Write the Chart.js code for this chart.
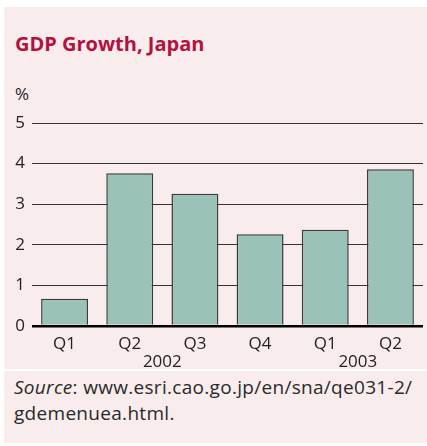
<!DOCTYPE html>
<html>
<head>
<meta charset="utf-8">
<script src="https://cdn.jsdelivr.net/npm/chart.js@4"></script>
<style>
  body { margin: 0; background: #fff; width: 427px; height: 446px; position: relative; overflow: hidden; font-family: "Open Sans", sans-serif; }
  #panel { position: absolute; left: 4px; top: 7px; width: 423px; height: 362px; background: #f9eced; }
  #title { position: absolute; left: 11px; top: 22.5px; margin: 0; font-size: 20px; font-weight: bold; color: #b5113f; }
  #unit { position: absolute; left: 11px; top: 75px; font-size: 17px; color: #222; }
  #chartBox { position: absolute; left: 0; top: 93.3px; width: 423px; height: 269px; }
  #source { position: absolute; left: 4px; top: 371px; width: 423px; height: 72px; background: #f9eced; }
  #source p { margin: 0; position: absolute; left: 10px; top: 3px; font-size: 19px; line-height: 26px; color: #2a2a2a; letter-spacing: 0.3px; white-space: nowrap; }
</style>
</head>
<body>
<div id="panel">
  <h1 id="title">GDP Growth, Japan</h1>
  <div id="unit">%</div>
  <div id="chartBox"><canvas id="gdpChart"></canvas></div>
</div>
<div id="source">
  <p><i>Source</i>: www.esri.cao.go.jp/en/sna/qe031-2/<br>gdemenuea.html.</p>
</div>

<script>
// Quarterly GDP growth
const quarters = ['Q1', 'Q2', 'Q3', 'Q4', 'Q1', 'Q2'];
const years = ['2002', '2002', '2002', '2002', '2003', '2003'];
const growth = [0.67, 3.76, 3.26, 2.26, 2.37, 3.86];
const yTicks = [0, 1, 2, 3, 4, 5];

// draws the year under its group of quarters
const yearLabels = {
    id: 'yearLabels',
    afterDraw(chart) {
        const ctx = chart.ctx;
        const x = chart.scales.x;
        const groups = {};
        years.forEach((yr, i) => {
            if (!groups[yr]) groups[yr] = [];
            groups[yr].push(x.getPixelForValue(i));
        });
        ctx.save();
        ctx.font = '17px "Open Sans"';
        ctx.fillStyle = '#222';
        ctx.textAlign = 'center';
        ctx.textBaseline = 'middle';
        Object.keys(groups).forEach(yr => {
            const px = groups[yr];
            const mid = (px[0] + px[px.length - 1]) / 2;
            ctx.fillText(yr, mid, chart.chartArea.bottom + 36);
        });
        ctx.restore();
    }
};

const ctx = document.getElementById('gdpChart').getContext('2d');
new Chart(ctx, {
    type: 'bar',
    data: {
        labels: quarters,
        datasets: [{
            data: growth,
            backgroundColor: '#9bc2b9',
            borderColor: '#3a3a3a',
            borderWidth: 1.5,
            barPercentage: 0.72,
            categoryPercentage: 1
        }]
    },
    options: {
        responsive: true,
        maintainAspectRatio: false,
        animation: false,
        layout: { padding: { top: 23, right: 4, left: 0, bottom: 0 } },
        plugins: {
            legend: { display: false },
            tooltip: { enabled: false }
        },
        scales: {
            x: {
                grid: { display: false, drawTicks: false },
                border: { display: false },
                ticks: { color: '#222', font: { family: 'Open Sans', size: 17 }, padding: 8, maxRotation: 0 },
                afterFit(scale) { scale.height = 43; }
            },
            y: {
                min: 0,
                max: 5,
                afterBuildTicks(scale) { scale.ticks = yTicks.map(v => ({ value: v })); },
                grid: {
                    color: ctx => ctx.tick && ctx.tick.value === 0 ? '#000' : '#333',
                    lineWidth: ctx => ctx.tick && ctx.tick.value === 0 ? 2.5 : 1,
                    drawTicks: false
                },
                border: { display: false },
                ticks: { color: '#222', font: { family: 'Open Sans', size: 17 }, padding: 7 },
                afterFit(scale) { scale.width = 28; }
            }
        }
    },
    plugins: [yearLabels]
});
</script>
</body>
</html>
